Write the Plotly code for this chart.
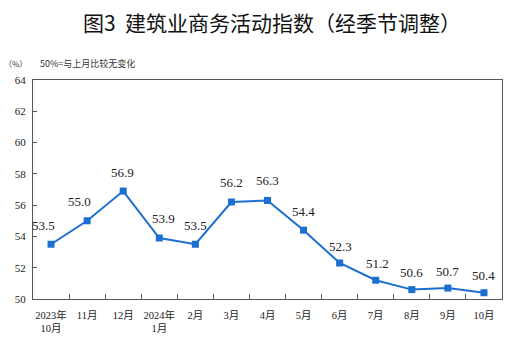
import plotly.graph_objects as go

categories = ["2023年<br>10月", "11月", "12月", "2024年<br>1月", "2月", "3月", "4月",
              "5月", "6月", "7月", "8月", "9月", "10月"]
values = [53.5, 55.0, 56.9, 53.9, 53.5, 56.2, 56.3, 54.4, 52.3, 51.2, 50.6, 50.7, 50.4]
y_ticks = [50, 52, 54, 56, 58, 60, 62, 64]

# label offsets (style only)
label_xshift = [-8, -8, -1, 4, 0, 0, 0, 0, 1, 2, 0, 0, 0]
label_yshift = [19, 19, 19, 19, 19, 20, 20, 19, 17, 17, 17, 17, 17]

serif = "Liberation Serif, Times New Roman, Noto Sans CJK SC, serif"
color = "#1a6fd0"

fig = go.Figure()
fig.add_trace(go.Scatter(
    x=categories, y=values, mode="lines+markers",
    line=dict(color=color, width=2),
    marker=dict(symbol="square", size=7, color=color),
    hoverinfo="skip", showlegend=False,
))

for c, v, xs, ys in zip(categories, values, label_xshift, label_yshift):
    fig.add_annotation(x=c, y=v, text=f"{v:.1f}", showarrow=False,
                       xshift=xs, yshift=ys,
                       font=dict(family=serif, size=13, color="#222"))

fig.add_annotation(text="图3  建筑业商务活动指数（经季节调整）", xref="paper", yref="paper",
                   x=0.5, xshift=4, y=1, yshift=58, xanchor="center", yanchor="middle",
                   showarrow=False,
                   font=dict(family="Noto Sans CJK SC", size=21, color="#111"))
fig.add_annotation(text="（%）", xref="paper", yref="paper", x=0, xshift=-31, y=1, yshift=17,
                   xanchor="left", yanchor="middle", showarrow=False,
                   font=dict(family="Noto Sans CJK SC", size=8, color="#333"))
fig.add_annotation(text="50%=与上月比较无变化", xref="paper", yref="paper", x=0, xshift=5, y=1, yshift=17,
                   xanchor="left", yanchor="middle", showarrow=False,
                   font=dict(family="Noto Sans CJK SC, serif", size=9, color="#333"))

fig.update_layout(
    width=519, height=355,
    margin=dict(l=33, r=17, t=80, b=56, autoexpand=False),
    paper_bgcolor="white", plot_bgcolor="white",
    font=dict(family=serif, size=10, color="#222"),
    xaxis=dict(type="category", showline=True, linecolor="#555", linewidth=1.2, mirror=True,
               ticks="inside", ticklen=5, tickcolor="#555", tickson="boundaries",
               showgrid=False, tickfont=dict(family=serif, size=10.5), tickangle=0,
               ticklabelstandoff=6,
               automargin=False, range=[-0.5, len(categories) - 0.5]),
    yaxis=dict(range=[50, 64], tickvals=y_ticks, showline=True, linecolor="#555", linewidth=1.2,
               mirror=True, ticks="inside", ticklen=4, tickcolor="#555", showgrid=False,
               ticklabelstandoff=4,
               automargin=False, zeroline=False, tickfont=dict(family=serif, size=11)),
)

fig.write_html("out.html", config={"displayModeBar": False},
               post_script="document.body.style.margin='0';document.body.style.overflow='hidden';")
